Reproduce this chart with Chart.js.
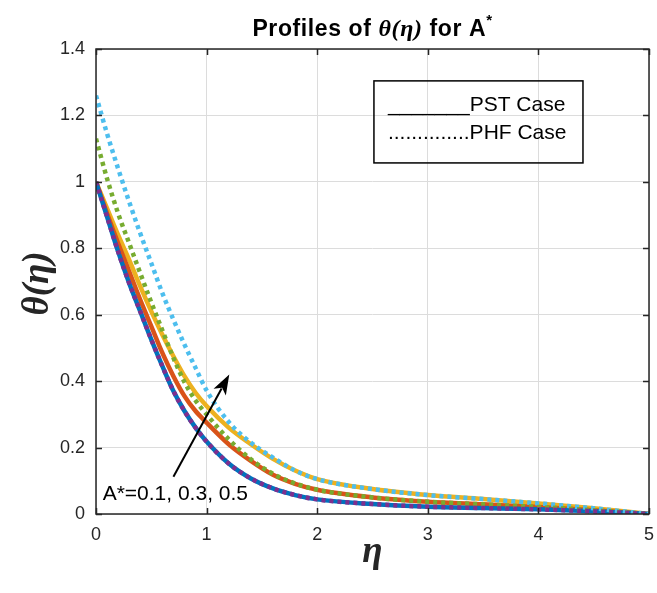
<!DOCTYPE html>
<html>
<head>
<meta charset="utf-8">
<script src="https://cdn.jsdelivr.net/npm/chart.js@4.4.1/dist/chart.umd.min.js"></script>
<style>
  html, body { margin: 0; padding: 0; background: #ffffff; }
  #wrap { width: 657px; height: 593px; }
</style>
</head>
<body>
<div id="wrap"><canvas id="c" width="657" height="593"></canvas></div>
<script>
// ---- data ----
const eta = [0, 0.1, 0.2, 0.3, 0.4, 0.5, 0.6, 0.7, 0.8, 0.9, 1.0, 1.2, 1.4, 1.6, 1.8, 2.0, 2.5, 3.0, 3.5, 4.0, 4.5, 5.0];

const pstA01 = [1.0, 0.895, 0.79, 0.695, 0.61, 0.525, 0.445, 0.37, 0.31, 0.26, 0.218, 0.152, 0.107, 0.077, 0.057, 0.044, 0.030, 0.022, 0.018, 0.014, 0.008, 0];
const pstA03 = [1.0, 0.905, 0.815, 0.73, 0.645, 0.565, 0.485, 0.415, 0.355, 0.31, 0.275, 0.21, 0.16, 0.118, 0.091, 0.073, 0.050, 0.037, 0.029, 0.021, 0.011, 0];
const pstA05 = [1.0, 0.92, 0.84, 0.765, 0.685, 0.61, 0.54, 0.475, 0.415, 0.365, 0.325, 0.26, 0.21, 0.166, 0.131, 0.105, 0.075, 0.057, 0.045, 0.032, 0.017, 0];
const phfA01 = [1.0, 0.895, 0.79, 0.695, 0.61, 0.525, 0.445, 0.37, 0.31, 0.26, 0.218, 0.152, 0.107, 0.077, 0.057, 0.044, 0.030, 0.022, 0.018, 0.014, 0.008, 0];
const phfA03 = [1.13, 1.01, 0.905, 0.815, 0.725, 0.637, 0.553, 0.47, 0.397, 0.342, 0.30, 0.225, 0.165, 0.121, 0.092, 0.073, 0.050, 0.037, 0.029, 0.021, 0.011, 0];
const phfA05 = [1.26, 1.145, 1.04, 0.94, 0.845, 0.755, 0.665, 0.585, 0.51, 0.44, 0.372, 0.277, 0.215, 0.17, 0.131, 0.105, 0.075, 0.057, 0.045, 0.032, 0.017, 0];

const xTicks = [0, 1, 2, 3, 4, 5];
const yTicks = [0, 0.2, 0.4, 0.6, 0.8, 1, 1.2, 1.4];

const titleParts = ["Profiles of ", "\u03B8(\u03B7)", " for A", "*"];
const yTitle = "\u03B8(\u03B7)";
const xTitle = "\u03B7";
const legendLines = ["_______PST Case", "..............PHF Case"];
const annotationText = "A*=0.1, 0.3, 0.5";
// annotation anchors in data units
const arrowTail = { x: 0.70, y: 0.112 };
const arrowTip = { x: 1.205, y: 0.42 };
const annotationAt = { x: 0.06, y: 0.042 };
const legendBoxData = { x0: 2.513, y0: 1.304, x1: 4.403, y1: 1.057 };

const colors = {
  blue: '#0072BD', red: '#D95319', yellow: '#EDB120',
  purple: '#7E2F8E', green: '#77AC30', cyan: '#4DBEEE'
};

function pts(ys) { return eta.map((x, i) => ({ x: x, y: ys[i] })); }

function ds(label, ys, color, dotted) {
  return {
    label: label,
    data: pts(ys),
    borderColor: color,
    backgroundColor: color,
    borderWidth: 4.5,
    borderDash: dotted ? [4, 4] : [],
    borderCapStyle: 'butt',
    pointRadius: 0,
    cubicInterpolationMode: 'monotone',
    fill: false,
    order: dotted ? 0 : 1
  };
}

const decor = {
  id: 'decor',
  afterDatasetsDraw(chart) {
    const ctx = chart.ctx;
    const a = chart.chartArea;
    const xs = chart.scales.x, ys = chart.scales.y;
    ctx.save();
    // axes box
    ctx.strokeStyle = '#262626';
    ctx.lineWidth = 1.5;
    ctx.strokeRect(a.left, a.top, a.right - a.left, a.bottom - a.top);
    // inward ticks on all four sides
    ctx.beginPath();
    xTicks.forEach(v => {
      const px = Math.round(xs.getPixelForValue(v)) + 0.5;
      ctx.moveTo(px, a.bottom); ctx.lineTo(px, a.bottom - 6);
      ctx.moveTo(px, a.top); ctx.lineTo(px, a.top + 6);
    });
    yTicks.forEach(v => {
      const py = Math.round(ys.getPixelForValue(v)) + 0.5;
      ctx.moveTo(a.left, py); ctx.lineTo(a.left + 6, py);
      ctx.moveTo(a.right, py); ctx.lineTo(a.right - 6, py);
    });
    ctx.stroke();

    // title
    const cx = (a.left + a.right) / 2;
    const fonts = [
      'bold 23px "Liberation Sans", Arial, sans-serif',
      'bold italic 24px "Liberation Serif", "Times New Roman", serif',
      'bold 23px "Liberation Sans", Arial, sans-serif',
      'bold 15px "Liberation Sans", Arial, sans-serif'
    ];
    ctx.letterSpacing = '0.6px';
    let widths = titleParts.map((t, i) => { ctx.font = fonts[i]; return ctx.measureText(t).width; });
    let total = widths.reduce((s, w) => s + w, 0);
    let tx = cx - total / 2;
    const tBase = 36;
    ctx.fillStyle = '#000000';
    ctx.textAlign = 'left';
    ctx.textBaseline = 'alphabetic';
    titleParts.forEach((t, i) => {
      ctx.font = fonts[i];
      ctx.fillText(t, tx, i === 3 ? tBase - 11 : tBase);
      tx += widths[i];
    });
    ctx.letterSpacing = '0px';

    // y axis title
    ctx.save();
    ctx.translate(48, (a.top + a.bottom) / 2 + 2);
    ctx.rotate(-Math.PI / 2);
    ctx.font = 'bold italic 37px "Liberation Serif", "Times New Roman", serif';
    ctx.textAlign = 'center';
    ctx.fillStyle = '#262626';
    ctx.fillText(yTitle, 0, 0);
    ctx.restore();

    // x axis title
    ctx.font = 'bold italic 37px "Liberation Serif", "Times New Roman", serif';
    ctx.textAlign = 'center';
    ctx.fillStyle = '#262626';
    ctx.fillText(xTitle, cx, 562);

    // legend box (transparent, grid shows through)
    const lx0 = xs.getPixelForValue(legendBoxData.x0), lx1 = xs.getPixelForValue(legendBoxData.x1);
    const ly0 = ys.getPixelForValue(legendBoxData.y0), ly1 = ys.getPixelForValue(legendBoxData.y1);
    ctx.strokeStyle = '#000000';
    ctx.lineWidth = 1.5;
    ctx.strokeRect(lx0, ly0, lx1 - lx0, ly1 - ly0);
    ctx.font = '21px "Liberation Sans", Arial, sans-serif';
    ctx.textAlign = 'left';
    ctx.fillStyle = '#000000';
    ctx.fillText(legendLines[0], lx0 + 14, ly0 + 30);
    ctx.fillText(legendLines[1], lx0 + 14, ly0 + 58);

    // arrow
    const x0 = xs.getPixelForValue(arrowTail.x), y0 = ys.getPixelForValue(arrowTail.y);
    const x1 = xs.getPixelForValue(arrowTip.x), y1 = ys.getPixelForValue(arrowTip.y);
    const ang = Math.atan2(y1 - y0, x1 - x0);
    const hl = 20, hw = 7;
    const bx = x1 - hl * Math.cos(ang), by = y1 - hl * Math.sin(ang);
    ctx.strokeStyle = '#000000';
    ctx.lineWidth = 2;
    ctx.beginPath();
    ctx.moveTo(x0, y0); ctx.lineTo(bx + 4 * Math.cos(ang), by + 4 * Math.sin(ang));
    ctx.stroke();
    ctx.fillStyle = '#000000';
    ctx.beginPath();
    ctx.moveTo(x1, y1);
    ctx.lineTo(bx + hw * Math.sin(ang), by - hw * Math.cos(ang));
    ctx.lineTo(bx + 5 * Math.cos(ang), by + 5 * Math.sin(ang));
    ctx.lineTo(bx - hw * Math.sin(ang), by + hw * Math.cos(ang));
    ctx.closePath();
    ctx.fill();

    // annotation text
    ctx.font = '21px "Liberation Sans", Arial, sans-serif';
    ctx.fillStyle = '#000000';
    ctx.textAlign = 'left';
    ctx.fillText(annotationText, xs.getPixelForValue(annotationAt.x), ys.getPixelForValue(annotationAt.y));
    ctx.restore();
  }
};

new Chart(document.getElementById('c'), {
  type: 'line',
  data: {
    datasets: [
      ds('PHF A*=0.1', phfA01, colors.purple, true),
      ds('PHF A*=0.3', phfA03, colors.green, true),
      ds('PHF A*=0.5', phfA05, colors.cyan, true),
      ds('PST A*=0.1', pstA01, colors.blue, false),
      ds('PST A*=0.3', pstA03, colors.red, false),
      ds('PST A*=0.5', pstA05, colors.yellow, false)
    ]
  },
  options: {
    responsive: false,
    animation: false,
    devicePixelRatio: 1,
    layout: { padding: { left: 0, top: 49, right: 8, bottom: 0 } },
    plugins: { legend: { display: false }, title: { display: false }, tooltip: { enabled: false } },
    scales: {
      x: {
        type: 'linear', min: 0, max: 5,
        afterBuildTicks: s => { s.ticks = xTicks.map(v => ({ value: v })); },
        ticks: {
          padding: 10, color: '#262626', maxRotation: 0,
          font: { size: 18, family: '"Liberation Sans", Arial, sans-serif' },
          callback: v => String(v)
        },
        grid: { color: '#dcdcdc', lineWidth: 1, drawTicks: false },
        border: { display: false },
        afterFit: s => { s.height = 79; s.paddingRight = 0; s.paddingLeft = 0; }
      },
      y: {
        type: 'linear', min: 0, max: 1.4,
        afterBuildTicks: s => { s.ticks = yTicks.map(v => ({ value: v })); },
        ticks: {
          padding: 11, color: '#262626',
          font: { size: 18, family: '"Liberation Sans", Arial, sans-serif' },
          callback: v => String(Math.round(v * 10) / 10)
        },
        grid: { color: '#dcdcdc', lineWidth: 1, drawTicks: false },
        border: { display: false },
        afterFit: s => { s.width = 96; s.paddingTop = 0; s.paddingBottom = 0; }
      }
    }
  },
  plugins: [decor]
});
</script>
</body>
</html>
